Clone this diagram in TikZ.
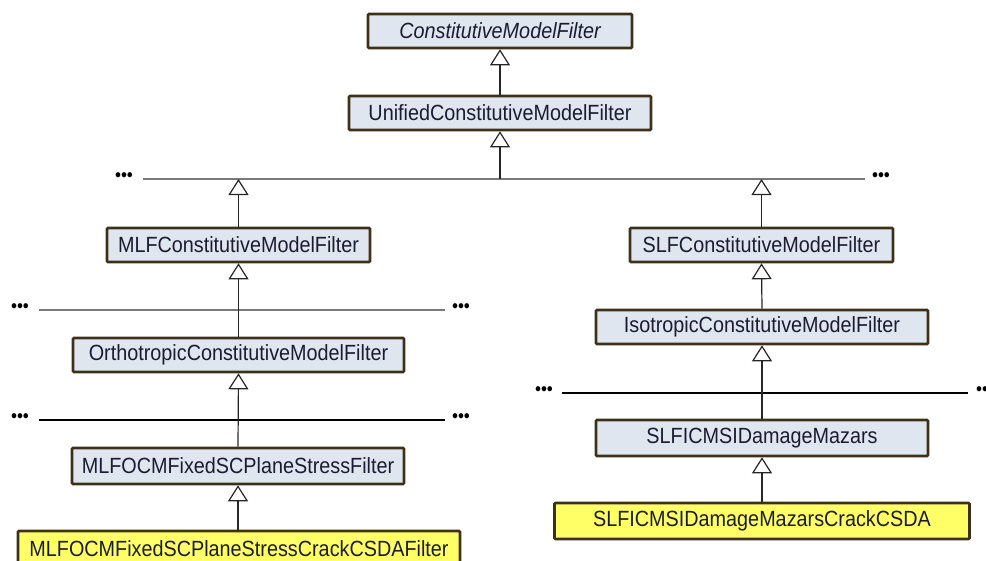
\documentclass[tikz,border=0pt]{standalone}
\usepackage{fontspec}
\setmainfont[FakeStretch=0.9]{Liberation Sans}
\usetikzlibrary{arrows.meta}
\definecolor{boxfill}{HTML}{E0E6F0}
\definecolor{boxline}{HTML}{3E3119}
\definecolor{yfill}{HTML}{FFFF66}
\definecolor{txt}{HTML}{1C1C30}
\definecolor{greyline}{HTML}{7A7A7A}
\tikzset{
  cls/.style={draw=boxline, line width=2.6pt, fill=boxfill, rounded corners=1pt,
    inner sep=0pt, text=txt, font=\fontsize{22}{24}\selectfont},
  leaf/.style={cls, fill=yfill},
  inh/.style={draw=black!85, line width=1.2pt, -{Triangle[open, width=20pt, length=16pt, line width=1.2pt]}},
  hline/.style={line width=1.3pt},
  dots/.style={inner sep=0pt, font=\fontsize{19}{19}\selectfont, text=black}
}
\begin{document}
\begin{tikzpicture}[x=1pt,y=-1pt]
\useasboundingbox (0,0) rectangle (986,560);
% boxes
\node[cls, minimum width=264pt, minimum height=34pt] (cmf) at (500,31) {\itshape ConstitutiveModelFilter};
\node[cls, minimum width=302pt, minimum height=34pt] (ucmf) at (500,113) {UnifiedConstitutiveModelFilter};
\node[cls, minimum width=263pt, minimum height=34pt] (mlf) at (238.5,245) {MLFConstitutiveModelFilter};
\node[cls, minimum width=263pt, minimum height=34pt] (slf) at (761.5,245) {SLFConstitutiveModelFilter};
\node[cls, minimum width=331pt, minimum height=34pt] (ortho) at (238.5,355) {OrthotropicConstitutiveModelFilter};
\node[cls, minimum width=332pt, minimum height=34pt] (iso) at (762,327) {IsotropicConstitutiveModelFilter};
\node[cls, minimum width=332pt, minimum height=36pt] (mlfocm) at (238,466) {MLFOCMFixedSCPlaneStressFilter};
\node[leaf, minimum width=442pt, minimum height=36pt] (mlfcrack) at (239,549) {MLFOCMFixedSCPlaneStressCrackCSDAFilter};
\node[cls, minimum width=332pt, minimum height=36pt] (maz) at (762,438) {SLFICMSIDamageMazars};
\node[leaf, minimum width=415pt, minimum height=36pt] (mazcrack) at (762,521) {SLFICMSIDamageMazarsCrackCSDA};
% horizontal lines
\coordinate (h1a) at (143,179); \coordinate (h1b) at (865,179);
\coordinate (h1m) at (500,179);
\coordinate (h1l) at (238.5,179); \coordinate (h1r) at (761.5,179);
\draw[hline, greyline] (h1a) -- (h1b);
\node[dots] (d1a) at (124,177) {•••};
\node[dots] (d1b) at (881,177) {•••};
\coordinate (h2a) at (39,310); \coordinate (h2b) at (445,310);
\draw[hline, greyline] (h2a) -- (h2b);
\node[dots] (d2a) at (20,308) {•••};
\node[dots] (d2b) at (461,308) {•••};
\coordinate (h3a) at (39,420); \coordinate (h3b) at (445,420);
\draw[hline, black] (h3a) -- (h3b);
\node[dots] (d3a) at (20,418) {•••};
\node[dots] (d3b) at (461,418) {•••};
\coordinate (h4a) at (562,393); \coordinate (h4b) at (968,393);
\draw[hline, black] (h4a) -- (h4b);
\node[dots] (d4a) at (544,391) {•••};
\node[dots] (d4b) at (985,391) {•••};
% connectors
\draw[inh] (ucmf.north) -- (cmf.south);
\draw[inh] (h1m) -- (ucmf.south);
\draw[inh] (mlf.north) -- (h1l);
\draw[inh] (slf.north) -- (h1r);
\draw[inh] (ortho.north) -- (mlf.south);
\draw[inh] (mlfocm.north) -- (ortho.south);
\draw[inh] (mlfcrack.north -| mlfocm.south) -- (mlfocm.south);
\draw[inh] (iso.north) -- (slf.south);
\draw[inh] (maz.north) -- (iso.south);
\draw[inh] (mazcrack.north) -- (maz.south);
\end{tikzpicture}
\end{document}
